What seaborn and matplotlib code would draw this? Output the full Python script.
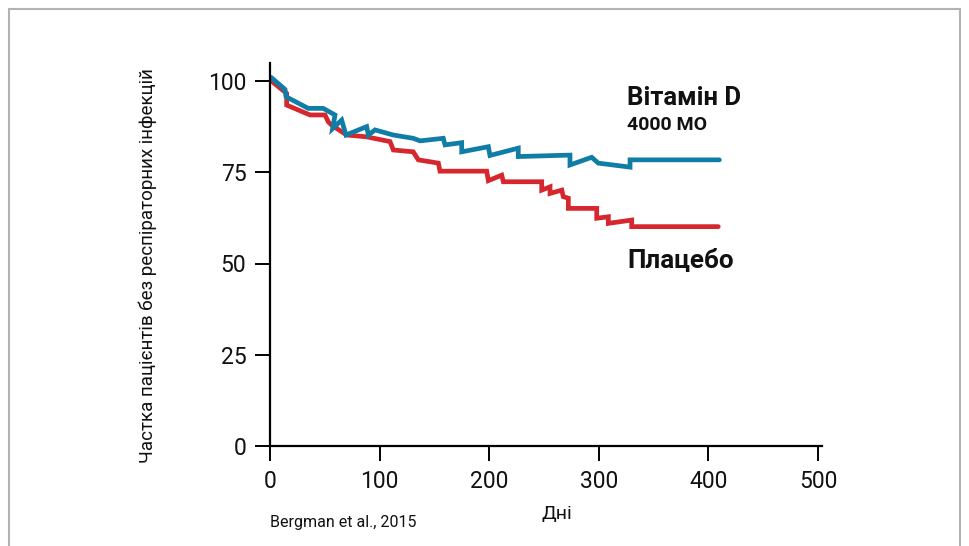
import matplotlib
matplotlib.use("Agg")
import matplotlib.pyplot as plt
import seaborn as sns
import pandas as pd
from matplotlib.patches import Rectangle

# ---- data ----
vit_days = [1, 13.7, 14.6, 34.9, 48.6, 59.3, 57.2, 65.4, 69.3, 88.2, 89.7, 95.8,
            112.5, 130.7, 136.9, 158.1, 159.7, 174.9, 174.9, 199.2, 200.7, 226.5,
            226.5, 273.7, 273.7, 293.5, 299.5, 328.5, 328.5, 410]
vit_vals = [101.0, 97.7, 95.7, 92.5, 92.5, 90.7, 87.0, 89.3, 85.2, 87.5, 85.2, 86.6,
            85.2, 84.3, 83.6, 84.3, 82.5, 83.1, 80.6, 82.0, 79.6, 81.6,
            79.3, 79.7, 77.0, 79.1, 77.5, 76.4, 78.4, 78.4]

pla_days = [0, 15.2, 15.2, 36.5, 50.2, 53.2, 56.3, 70, 88.2, 109.5, 112.5, 130.7,
            135.3, 153.6, 155.1, 197.7, 199.2, 211.4, 212.9, 247.9, 247.9, 255.5,
            255.5, 266.2, 267.6, 272.2, 272.2, 298.1, 298.1, 308.7, 308.7, 330.0,
            330.0, 409]
pla_vals = [100.3, 96.6, 93.4, 90.7, 90.7, 88.8, 87.9, 85.2, 84.7, 83.4, 81.1, 80.6,
            78.4, 77.5, 75.3, 75.3, 72.7, 74.2, 72.4, 72.4, 70.1, 71.0,
            69.2, 70.1, 68.3, 67.9, 65.1, 65.1, 62.4, 62.8, 61.0, 61.9,
            60.1, 60.1]

x_ticks = [0, 100, 200, 300, 400, 500]
y_ticks = [0, 25, 50, 75, 100]

label_vit = "Вітамін D"
label_vit_sub = "4000 МО"
label_pla = "Плацебо"
y_title = "Частка пацієнтів без респіраторних інфекцій"
x_title = "Дні"
source = "Bergman et al., 2015"

BLUE = "#0f7da5"
RED = "#d6262e"

df = pd.concat([
    pd.DataFrame({"day": vit_days, "val": vit_vals, "grp": "vit", "order": range(len(vit_days))}),
    pd.DataFrame({"day": pla_days, "val": pla_vals, "grp": "pla", "order": range(len(pla_days))}),
], ignore_index=True)

sns.set_theme(style="white")
plt.rcParams["font.family"] = ["Roboto", "DejaVu Sans"]

fig = plt.figure(figsize=(9.69, 5.46), dpi=100)
ax = fig.add_axes([270 / 969, 100 / 546, 552.4 / 969, 383.25 / 546])

sns.lineplot(data=df, x="day", y="val", hue="grp", palette={"vit": BLUE, "pla": RED},
             hue_order=["pla", "vit"], sort=False, estimator=None, units="grp",
             linewidth=3.4, legend=False, ax=ax)
for ln in ax.lines:
    ln.set_solid_joinstyle("miter")

ax.set_xlim(0, 504)
ax.set_ylim(0, 105)
ax.set_xticks(x_ticks)
ax.set_yticks(y_ticks)
ax.set_xticklabels([str(t) for t in x_ticks])
ax.set_yticklabels([str(t) for t in y_ticks])
for s in ["top", "right"]:
    ax.spines[s].set_visible(False)
for s in ["left", "bottom"]:
    ax.spines[s].set_color("black")
    ax.spines[s].set_linewidth(1.6)
ax.tick_params(axis="both", direction="out", length=11, width=1.4, color="black",
               labelsize=16.5, pad=6, labelcolor="#111111")
ax.tick_params(axis="x", bottom=True)
ax.tick_params(axis="y", left=True)
ax.set_xlabel("")
ax.set_ylabel("")
ax.grid(False)

fig.text(148 / 969, 1 - 266 / 546, y_title, rotation=90, ha="center", va="center",
         fontsize=13.5, color="#111111")
fig.text(557 / 969, 1 - 514 / 546, x_title, ha="center", va="center",
         fontsize=14, color="#111111")
fig.text(270 / 969, 1 - 522 / 546, source, ha="left", va="center",
         fontsize=11.5, color="#111111")

ax.text(325.7, 93.4, label_vit, ha="left", va="baseline", fontsize=18.5,
        fontweight="bold", color="#111111")
ax.text(325.7, 86.6, label_vit_sub, ha="left", va="baseline", fontsize=14,
        fontweight="bold", color="#111111")
ax.text(325.7, 48.8, label_pla, ha="left", va="baseline", fontsize=18.7,
        fontweight="bold", color="#111111")

fig.patches.append(Rectangle((8.5 / 969, -0.1), (960 - 8.5) / 969, 1.1 - 8.5 / 546,
                             transform=fig.transFigure, fill=False,
                             edgecolor="#b3b3b3", linewidth=1.5))

fig.savefig("out.png", dpi=100)
